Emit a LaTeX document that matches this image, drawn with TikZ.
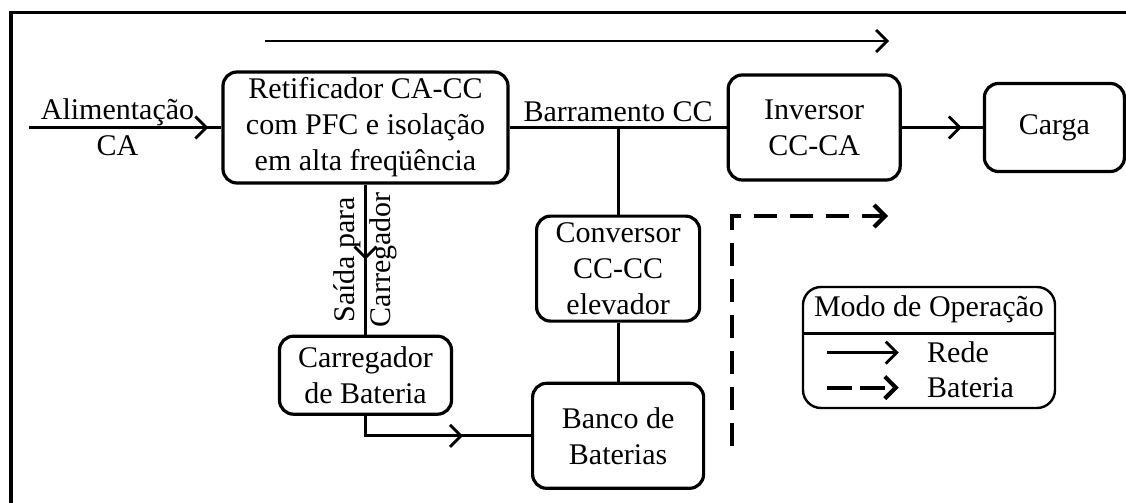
\documentclass[tikz,border=0pt]{standalone}
\usepackage{fontspec}
\setmainfont{Liberation Serif}
\usetikzlibrary{positioning}
\usetikzlibrary{arrows.meta}
\usetikzlibrary{calc}
\usetikzlibrary{decorations.markings}
\tikzset{%
  bloco/.style={draw, rounded corners=7pt, line width=1.6pt, align=center, inner sep=0pt},%
  fio/.style={line width=1.4pt},%
  seta/.style={fio, postaction={decorate, decoration={markings, mark=at position #1 with {\arrow{Straight Barb[length=5.5pt,width=11pt]}}}}},%
  seta/.default=0.5,%
  rede/.style={fio, -{Straight Barb[length=5.5pt,width=11pt]}},%
  bateria/.style={line width=2.1pt, dash pattern=on 11.5pt off 6.5pt, -{Straight Barb[length=5.5pt,width=11pt]}},%
}
\begin{document}
\begin{tikzpicture}[x=0.5pt, y=-0.5pt, every node/.style={font=\fontsize{15}{18}\selectfont}]
        \useasboundingbox (0,0) rectangle (1126,503);%
        \draw[line width=1.6pt] (11,12.7) rectangle (1160,540);%
        \node[bloco, minimum width=142.5pt, minimum height=55.5pt] (ret) at (365.5,127.5) {Retificador CA-CC\\com PFC e isolação\\em alta freqüência};%
        \node[bloco, minimum width=86pt, minimum height=52.5pt, right=108.5pt of ret] (inv) {Inversor\\CC-CA};%
        \node[bloco, minimum width=70pt, minimum height=44pt, right=40.5pt of inv] (carga) {Carga};%
        \coordinate (tap) at ($(ret.east)!0.5!(inv.west)$);%
        \node[bloco, minimum width=81.5pt, minimum height=52.5pt, below=43.5pt of tap] (conv) {Conversor\\CC-CC\\elevador};%
        \node[bloco, minimum width=85.5pt, minimum height=52.5pt, below=29.5pt of conv] (banco) {Banco de\\Baterias};%
        \node[bloco, minimum width=86pt, minimum height=39pt, below=75pt of ret] (carr) {Carregador\\de Bateria};%
        \coordinate (ac) at (29,127.5);%
        \draw[seta=-6.5pt] (ac) -- (ret) node[pos=0.46, align=center] {Alimentação\\CA}; %
        \draw[fio] (ret) -- (inv) node[midway, above, inner sep=2pt] {Barramento CC}; %
        \draw[seta=-10.5pt] (inv) -- (carga); %
        \draw[fio] (tap) -- (conv); %
        \draw[fio] (conv) -- (banco); %
        \draw[seta] (ret) -- (carr) node[midway, rotate=90, align=center] {Saída para\\Carregador}; %
        \draw[seta=-34pt] (carr) |- (banco); %
        % modos de operacao
        \coordinate (top0) at (265,41);%
        \coordinate (top1) at (889,41);%
        \draw[rede] (top0) -- (top1); %
        \coordinate (d0) at (732,450);%
        \coordinate (d1) at (732,216);%
        \coordinate (d2) at (888,216);%
        \draw[bateria, dash phase=-2pt] (d0) -- (d1) -- (d2); %
        % legenda
        \node[bloco, rounded corners=9pt, line width=1.2pt, minimum width=126pt, minimum height=60.5pt] (leg) at (929,347.5) {};%
        \node[anchor=north, minimum height=23.5pt, inner sep=0pt] (modo) at (leg.north) {Modo de Operação};%
        \draw[line width=1.2pt] (leg.west |- modo.south) -- (leg.east |- modo.south); %
        \coordinate (r0) at ($(leg.west |- modo.south)+(25,19)$);%
        \coordinate (r1) at ($(r0)+(72,0)$);%
        \coordinate (b0) at ($(r0)+(0,35)$);%
        \coordinate (b1) at ($(r1)+(0,35)$);%
        \draw[rede] (r0) -- (r1); %
        \draw[bateria, dash pattern=on 12.5pt off 4pt] (b0) -- (b1); %
        \node[right=14pt of r1, inner sep=0pt] (lrede) {Rede};%
        \node[right=14pt of b1, inner sep=0pt] (lbat) {Bateria};%
\end{tikzpicture}
\end{document}
